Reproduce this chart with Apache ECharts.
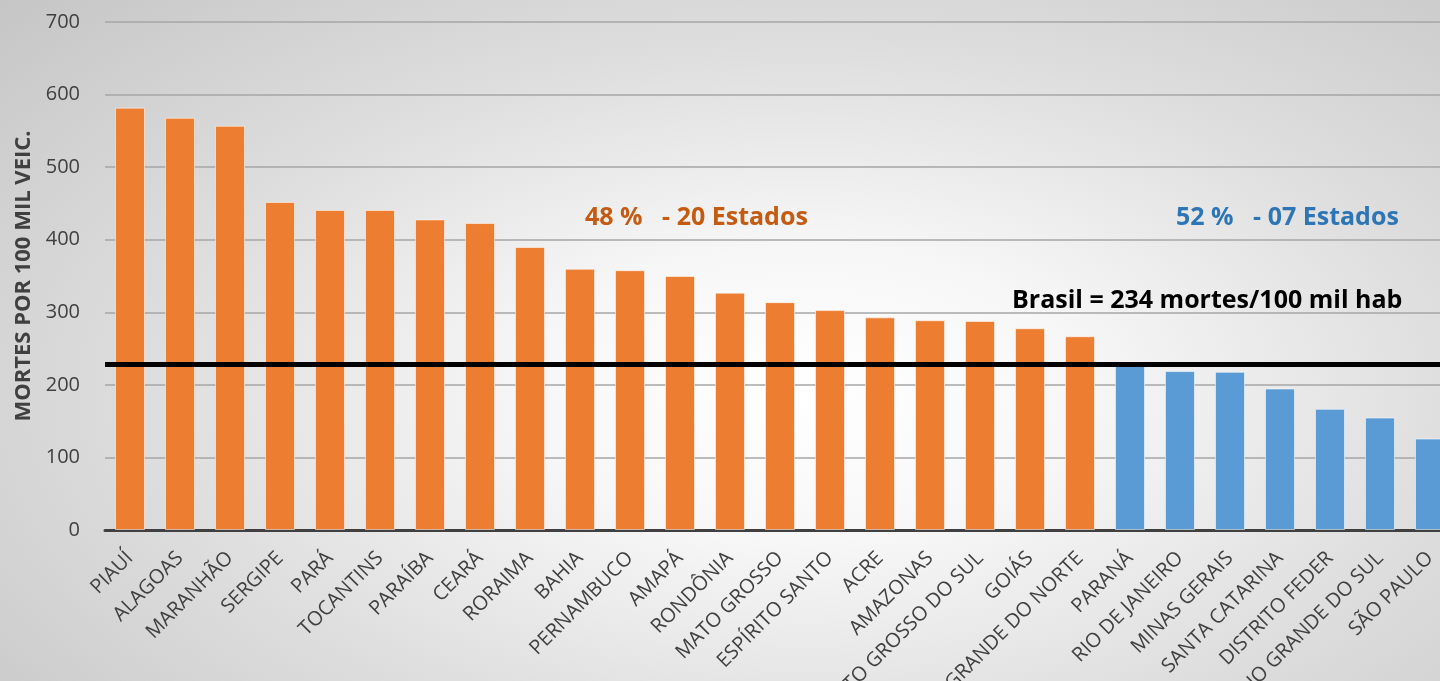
<!DOCTYPE html>
<html>
<head>
<meta charset="utf-8">
<script src="https://cdn.jsdelivr.net/npm/echarts@6/dist/echarts.min.js"></script>
<style>
html,body{margin:0;padding:0;width:1440px;height:681px;overflow:hidden;
background:radial-gradient(ellipse 75% 85% at 56% 58%, #ffffff 0%, #f7f7f7 25%, #dedede 60%, #c6c6c6 100%);}
#chart{width:1440px;height:681px;}
</style>
</head>
<body>
<div id="chart"></div>
<script>
const categories = ["PIAUÍ","ALAGOAS","MARANHÃO","SERGIPE","PARÁ","TOCANTINS","PARAÍBA","CEARÁ","RORAIMA","BAHIA","PERNAMBUCO","AMAPÁ","RONDÔNIA","MATO GROSSO","ESPÍRITO SANTO","ACRE","AMAZONAS","MATO GROSSO DO SUL","GOIÁS","RIO GRANDE DO NORTE","PARANÁ","RIO DE JANEIRO","MINAS GERAIS","SANTA CATARINA","DISTRITO FEDER","RIO GRANDE DO SUL","SÃO PAULO"];
const values = [582,568,557,452,441,441,428,423,390,360,358,350,327,314,303,293,289,288,278,267,228,219,218,195,167,155,126];
const aboveCount = 20;
const brasilLine = 228;
const yTicks = {min:0, max:700, interval:100};
const orange = "#ED7D31", blue = "#5B9BD5";

const barData = values.map((v,i)=>({
  value:v,
  itemStyle:{color: i<aboveCount ? orange : blue}
}));

const chart = echarts.init(document.getElementById('chart'));
chart.setOption({
  backgroundColor:'transparent',
  animation:false,
  grid:{left:105,right:-15,top:22,bottom:151,containLabel:false,outerBoundsMode:'none'},
  xAxis:{
    type:'category',
    data:categories,
    axisLine:{lineStyle:{color:'#404040',width:3}},
    axisTick:{length:6,lineStyle:{color:'#404040',width:2}},
    axisLabel:{rotate:45,interval:0,margin:25,color:'#404040',fontFamily:'Open Sans',fontSize:20}
  },
  yAxis:{
    type:'value',
    min:yTicks.min,max:yTicks.max,interval:yTicks.interval,
    name:'MORTES POR 100 MIL VEIC.',
    nameLocation:'middle',nameRotate:90,nameGap:66,
    nameTextStyle:{color:'#404040',fontFamily:'Open Sans',fontWeight:'bold',fontSize:22},
    axisLine:{show:false},axisTick:{show:false},
    axisLabel:{color:'#404040',fontFamily:'Open Sans',fontSize:20,margin:25},
    splitLine:{lineStyle:{color:'#a6a6a6',width:1.5}}
  },
  series:[{
    type:'bar',
    data:barData,
    barWidth:'60%',
    itemStyle:{borderColor:'rgba(255,255,255,0.55)',borderWidth:1},
    markLine:{
      silent:true,symbol:'none',
      label:{show:false},
      lineStyle:{color:'#000',width:5,type:'solid'},
      data:[{yAxis:brasilLine}]
    },
    z:2
  }],
  graphic:[
    {type:'text',left:585,top:205,style:{text:'48 %   - 20 Estados',fill:'#C55A11',font:'bold 25px "Open Sans"'}},
    {type:'text',left:1176,top:205,style:{text:'52 %   - 07 Estados',fill:'#2E75B6',font:'bold 25px "Open Sans"'}},
    {type:'text',left:1012,top:288,style:{text:'Brasil = 234 mortes/100 mil hab',fill:'#000',font:'bold 25px "Open Sans"'}}
  ]
});
</script>
</body>
</html>
